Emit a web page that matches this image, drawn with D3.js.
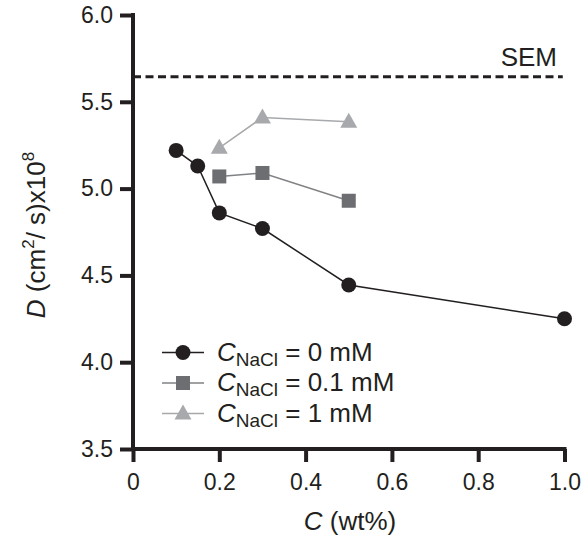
<!DOCTYPE html>
<html>
<head>
<meta charset="utf-8">
<script src="https://cdn.jsdelivr.net/npm/d3@7"></script>
<style>
  body { margin: 0; background: #fff; }
  text { font-family: "Liberation Sans", Arial, sans-serif; fill: #231f20; }
</style>
</head>
<body>
<svg id="chart" width="588" height="536"></svg>
<script>
// data
var xTicks = [0, 0.2, 0.4, 0.6, 0.8, 1.0];
var yTicks = [3.5, 4.0, 4.5, 5.0, 5.5, 6.0];
var semValue = 5.645;

var c0x = [0.1, 0.15, 0.2, 0.3, 0.5, 1.0];
var c0y = [5.22, 5.13, 4.86, 4.77, 4.445, 4.25];
var c01x = [0.2, 0.3, 0.5];
var c01y = [5.07, 5.09, 4.93];
var c1x = [0.2, 0.3, 0.5];
var c1y = [5.235, 5.41, 5.385];

var seriesNames = ["0 mM", "0.1 mM", "1 mM"];

var svg = d3.select('#chart');

var x = d3.scaleLinear().domain([0, 1]).range([133, 564.5]);
var y = d3.scaleLinear().domain([3.5, 6]).range([449, 15]);

var series = [
  {xs: c0x, ys: c0y, marker: 'circle', fill: '#231f20', line: '#231f20', name: seriesNames[0]},
  {xs: c01x, ys: c01y, marker: 'square', fill: '#6d6e71', line: '#808285', name: seriesNames[1]},
  {xs: c1x, ys: c1y, marker: 'triangle', fill: '#a7a9ac', line: '#a7a9ac', name: seriesNames[2]}
];

// SEM reference line
svg.append('line')
  .attr('x1', x(0)).attr('x2', x(0.996))
  .attr('y1', y(semValue)).attr('y2', y(semValue))
  .attr('stroke', '#231f20')
  .attr('stroke-width', 3)
  .attr('stroke-dasharray', '8,4.5');

svg.append('text')
  .attr('x', 557).attr('y', 66)
  .attr('text-anchor', 'end')
  .attr('font-size', '26px')
  .text('SEM');

function drawMarker(g, type, cx, cy, fill) {
  if (type === 'circle') {
    g.append('circle').attr('cx', cx).attr('cy', cy).attr('r', 7.5).attr('fill', fill);
  } else if (type === 'square') {
    g.append('rect').attr('x', cx - 7).attr('y', cy - 7).attr('width', 14).attr('height', 14).attr('fill', fill);
  } else {
    g.append('path')
      .attr('d', 'M' + cx + ',' + (cy - 9) + ' L' + (cx + 8.5) + ',' + (cy + 6) + ' L' + (cx - 8.5) + ',' + (cy + 6) + ' Z')
      .attr('fill', fill);
  }
}

var line = d3.line()
  .x(function(d) { return x(d[0]); })
  .y(function(d) { return y(d[1]); });

series.forEach(function(s) {
  var pts = s.xs.map(function(v, i) { return [v, s.ys[i]]; });
  svg.append('path')
    .attr('d', line(pts))
    .attr('fill', 'none')
    .attr('stroke', s.line)
    .attr('stroke-width', 1.5);
  var g = svg.append('g');
  pts.forEach(function(p) {
    drawMarker(g, s.marker, x(p[0]), y(p[1]), s.fill);
  });
});

// axes
var xAxis = svg.append('g')
  .attr('transform', 'translate(0,' + y(3.5) + ')')
  .call(d3.axisBottom(x).tickValues(xTicks).tickSizeInner(13).tickSizeOuter(0).tickPadding(12)
    .tickFormat(function(d) { return d === 0 ? '0' : d3.format('.1f')(d); }));
var yAxis = svg.append('g')
  .attr('transform', 'translate(' + x(0) + ',0)')
  .call(d3.axisLeft(y).tickValues(yTicks).tickSizeInner(13).tickSizeOuter(0).tickPadding(7)
    .tickFormat(d3.format('.1f')));

[xAxis, yAxis].forEach(function(a) {
  a.select('.domain').attr('stroke', '#231f20').attr('stroke-width', 4);
  a.selectAll('.tick line').attr('stroke', '#231f20').attr('stroke-width', 4);
  a.selectAll('.tick text').attr('font-size', '23px').attr('fill', '#231f20')
    .attr('font-family', '"Liberation Sans", Arial, sans-serif');
});
xAxis.select('.domain').attr('d', 'M' + (x(0) - 2) + ',0H' + (x(1) + 2));
yAxis.select('.domain').attr('d', 'M0,' + (y(6) - 2) + 'V' + (y(3.5) + 2));

// axis titles
var xl = svg.append('text')
  .attr('x', 350).attr('y', 530)
  .attr('text-anchor', 'middle')
  .attr('font-size', '26px');
xl.append('tspan').attr('font-style', 'italic').text('C');
xl.append('tspan').text(' (wt%)');

var yl = svg.append('text')
  .attr('transform', 'translate(45,235) rotate(-90)')
  .attr('text-anchor', 'middle')
  .attr('font-size', '26px');
yl.append('tspan').attr('font-style', 'italic').text('D');
yl.append('tspan').text(' (cm');
yl.append('tspan').attr('font-size', '17px').attr('dy', -11).text('2');
yl.append('tspan').attr('dy', 11).text('/ s)x10');
yl.append('tspan').attr('font-size', '17px').attr('dy', -11).text('8');

// legend
var legendY = [352.5, 383, 413.5];
series.forEach(function(s, i) {
  var ly = legendY[i];
  svg.append('line')
    .attr('x1', 162).attr('x2', 204)
    .attr('y1', ly).attr('y2', ly)
    .attr('stroke', s.line).attr('stroke-width', 1.5);
  drawMarker(svg, s.marker, 183, ly, s.fill);
  var t = svg.append('text').attr('x', 217).attr('y', ly + 8).attr('font-size', '26px');
  t.append('tspan').attr('font-style', 'italic').text('C');
  t.append('tspan').attr('font-size', '19px').attr('dy', 5).text('NaCl');
  t.append('tspan').attr('dy', -5).text(' = ' + s.name);
});
</script>
</body>
</html>
